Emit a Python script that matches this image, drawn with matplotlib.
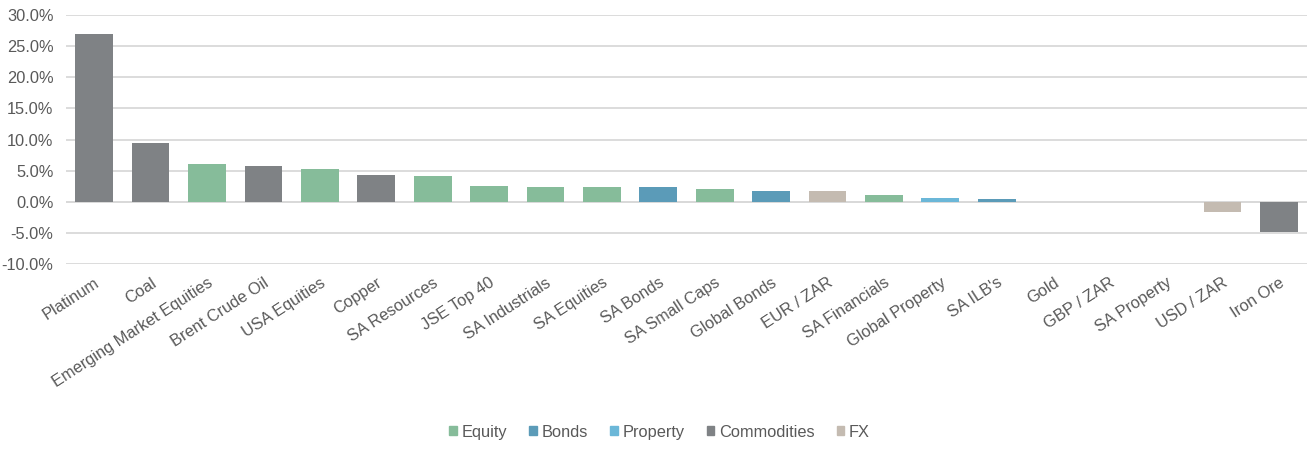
import matplotlib
matplotlib.use("Agg")
import matplotlib.pyplot as plt
from matplotlib.patches import Patch
from matplotlib.ticker import FuncFormatter

categories = ["Platinum", "Coal", "Emerging Market Equities", "Brent Crude Oil", "USA Equities",
              "Copper", "SA Resources", "JSE Top 40", "SA Industrials", "SA Equities", "SA Bonds",
              "SA Small Caps", "Global Bonds", "EUR / ZAR", "SA Financials", "Global Property",
              "SA ILB's", "Gold", "GBP / ZAR", "SA Property", "USD / ZAR", "Iron Ore"]
values = [26.9, 9.5, 6.1, 5.8, 5.2, 4.35, 4.2, 2.6, 2.4, 2.3, 2.3, 2.1, 1.8, 1.8, 1.1, 0.6,
          0.5, 0.0, 0.0, 0.0, -1.6, -4.8]
asset_class = ["Commodities", "Commodities", "Equity", "Commodities", "Equity", "Commodities",
               "Equity", "Equity", "Equity", "Equity", "Bonds", "Equity", "Bonds", "FX", "Equity",
               "Property", "Bonds", "Commodities", "FX", "Property", "FX", "Commodities"]
legend_order = ["Equity", "Bonds", "Property", "Commodities", "FX"]
colors = {"Equity": "#86BC9A", "Bonds": "#5B9BB8", "Property": "#6BB7D8",
          "Commodities": "#7F8285", "FX": "#C4BBB1"}

plt.rcParams['font.family'] = ['Liberation Sans', 'DejaVu Sans']
text_color = "#595959"
fs = 11.8

fig = plt.figure(figsize=(13.14, 4.51), dpi=100)
ax = fig.add_axes([0.0502, 0.4146, 0.9445, 0.5521])

x = list(range(len(categories)))
ax.bar(x, values, width=0.67, color=[colors[c] for c in asset_class], zorder=3)

ax.set_xlim(-0.5, len(categories) - 0.5)
ax.set_ylim(-10, 30)
ax.set_yticks([-10, -5, 0, 5, 10, 15, 20, 25, 30])
ax.yaxis.set_major_formatter(FuncFormatter(lambda v, p: f"{v:.1f}%"))
ax.grid(axis='y', color="#D9D9D9", linewidth=1.3, zorder=0)
ax.axhline(0, color="#D9D9D9", linewidth=1.3, zorder=1)
for s in ax.spines.values():
    s.set_visible(False)
ax.tick_params(axis='both', length=0, labelsize=fs, colors=text_color)
ax.tick_params(axis='y', pad=9)
ax.set_xticks(x)
ax.set_xticklabels(categories, rotation=33, ha='right', rotation_mode='anchor')
ax.tick_params(axis='x', pad=8)

handles = [Patch(color=colors[c], label=c) for c in legend_order]
leg = fig.legend(handles=handles, loc='center', bbox_to_anchor=(0.502, 0.042), ncol=5,
                 frameon=False, fontsize=fs, handlelength=0.45, handleheight=0.45,
                 handletextpad=0.3, columnspacing=1.35)
for t in leg.get_texts():
    t.set_color(text_color)

fig.savefig("out.png", dpi=100)
